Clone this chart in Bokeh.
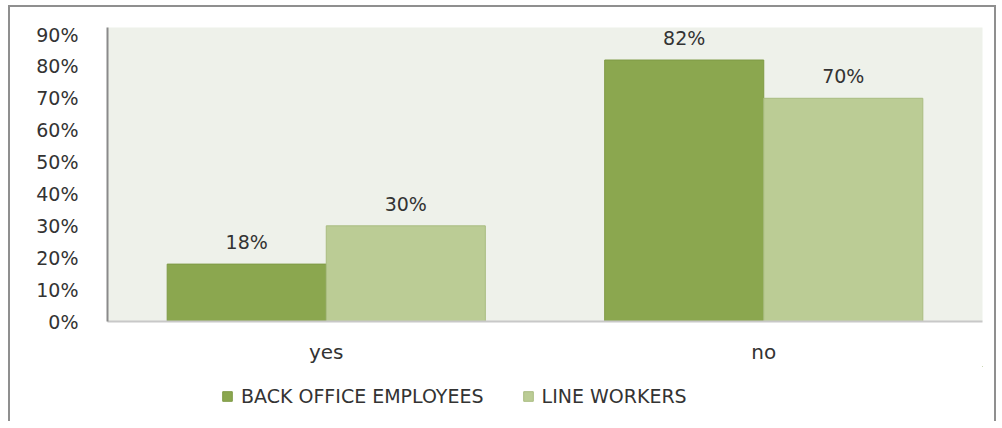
from bokeh.plotting import figure
from bokeh.layouts import column
from bokeh.models import (ColumnDataSource, FactorRange, Range1d, FixedTicker,
                          NumeralTickFormatter, LabelSet, Legend, LegendItem)
from bokeh.core.properties import value
from bokeh.transform import dodge
from bokeh.embed import file_html
from bokeh.resources import INLINE

categories = ["yes", "no"]
back_office = [0.18, 0.82]
line_workers = [0.30, 0.70]
series_names = ["BACK OFFICE EMPLOYEES", "LINE WORKERS"]
y_ticks = [0.0, 0.1, 0.2, 0.3, 0.4, 0.5, 0.6, 0.7, 0.8, 0.9]

DARK = "#8BA74F"
LIGHT = "#BBCC95"
DARK_LINE = "#7F9A45"
LIGHT_LINE = "#A9BC80"
FONT = "DejaVu Sans"

src = ColumnDataSource(dict(
    cat=categories,
    bo=back_office,
    lw=line_workers,
    bo_lbl=[f"{round(v*100)}%" for v in back_office],
    lw_lbl=[f"{round(v*100)}%" for v in line_workers],
))

p = figure(width=984, height=359, x_range=FactorRange(*categories, range_padding=0),
           y_range=Range1d(0, 0.922), output_backend="svg", toolbar_location=None,
           min_border_left=97, min_border_right=12, min_border_top=20, min_border_bottom=42)

p.background_fill_color = "#EEF1EA"
p.border_fill_color = "white"
p.outline_line_color = None
p.xgrid.visible = False
p.ygrid.visible = False

w = 0.3636
p.vbar(x=dodge("cat", -w/2, range=p.x_range), top="bo", width=w, source=src,
       fill_color=DARK, line_color=DARK_LINE, line_width=1)
p.vbar(x=dodge("cat", w/2, range=p.x_range), top="lw", width=w, source=src,
       fill_color=LIGHT, line_color=LIGHT_LINE, line_width=1)

for col, off, top in (("bo_lbl", -w/2, "bo"), ("lw_lbl", w/2, "lw")):
    p.add_layout(LabelSet(x=dodge("cat", off, range=p.x_range), y=top, text=col, source=src,
                          text_align="center", text_baseline="bottom", y_offset=11,
                          text_font=value(FONT), text_font_size="19px", text_color="#333333"))

p.yaxis.ticker = FixedTicker(ticks=y_ticks)
p.yaxis.formatter = NumeralTickFormatter(format="0%")
p.yaxis.major_tick_line_color = None
p.yaxis.minor_tick_line_color = None
p.yaxis.axis_line_color = "#8a8a8a"
p.yaxis.axis_line_width = 2
p.yaxis.major_label_standoff = 23
p.yaxis.major_label_text_font = FONT
p.yaxis.major_label_text_font_size = "19px"
p.yaxis.major_label_text_color = "#333333"

p.xaxis.major_tick_line_color = None
p.xaxis.minor_tick_line_color = None
p.xaxis.axis_line_color = "#c8c8c8"
p.xaxis.axis_line_width = 2
p.xaxis.major_label_standoff = 12
p.xaxis.major_label_text_font = FONT
p.xaxis.major_label_text_font_size = "20px"
p.xaxis.major_label_text_color = "#333333"

# legend strip below the chart
lg = figure(width=984, height=55, x_range=Range1d(0, 1), y_range=Range1d(0, 1),
            output_backend="svg", toolbar_location=None,
            min_border_left=0, min_border_right=0, min_border_top=0, min_border_bottom=0)
lg.axis.visible = False
lg.grid.visible = False
lg.outline_line_color = None
lg.background_fill_color = "white"
lg.border_fill_color = "white"
# legend-only renderers: one point each, placed outside the visible range
d1 = lg.vbar(x=[5], top=[5], bottom=[4], width=0.1, fill_color=DARK, line_color=DARK_LINE)
d2 = lg.vbar(x=[5], top=[5], bottom=[4], width=0.1, fill_color=LIGHT, line_color=LIGHT_LINE)
legend = Legend(items=[LegendItem(label=series_names[0], renderers=[d1]),
                       LegendItem(label=series_names[1], renderers=[d2])],
                orientation="horizontal", location=(114, 14),
                glyph_width=12, glyph_height=12, label_standoff=8, spacing=38,
                padding=0, margin=0, border_line_color=None, background_fill_alpha=0,
                label_text_font=FONT, label_text_font_size="19px",
                label_text_color="#333333")
lg.add_layout(legend)

layout = column(p, lg, spacing=0)
layout.styles = {"border-top": "2px solid #8f8f8f", "border-left": "2px solid #8f8f8f",
                 "border-right": "2px solid #8f8f8f", "margin-left": "8px", "margin-top": "5px"}

open("out.html", "w").write(file_html(layout, INLINE))
